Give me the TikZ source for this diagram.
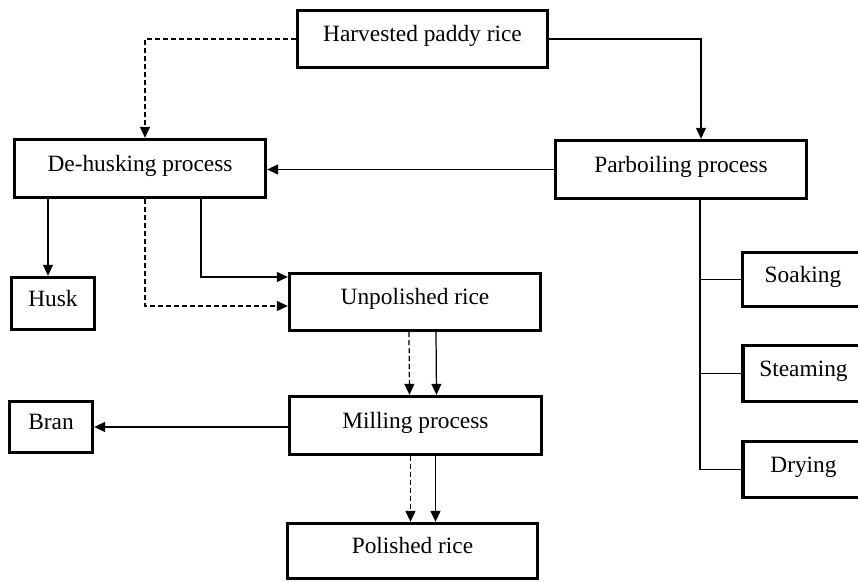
\documentclass[tikz,border=0pt]{standalone}
\usepackage{fontspec}
\setmainfont{Liberation Serif}
\usepackage{tikz}
\usetikzlibrary{arrows.meta}
\newcommand{\boxfont}{\fontsize{13.3}{16}\selectfont}
\tikzset{>={Triangle[length=2.2mm,width=2mm]}}
\tikzset{procbox/.style={draw, line width=1.9pt, inner sep=0pt, font=\boxfont, text height=0.35cm, text depth=0.24cm},
	conn/.style={line width=0.7pt},
	dashconn/.style={line width=0.7pt, dash pattern=on 0.1cm off 0.06cm}}

\begin{document}
\begin{tikzpicture}
	\useasboundingbox (0,0) rectangle (17.16,11.64);
	
	\node[procbox, minimum width=5.0cm, minimum height=1.14cm] (harvested) at (8.45,10.86) {Harvested paddy rice};
	\node[procbox, minimum width=5.02cm, minimum height=1.16cm] (dehusk) at (2.80,8.27) {De-husking process};
	\node[procbox, minimum width=5.02cm, minimum height=1.16cm] (parboil) at (13.62,8.25) {Parboiling process};
	\node[procbox, minimum width=1.66cm, minimum height=1.04cm] (husk) at (1.06,5.57) {Husk};
	\node[procbox, minimum width=5.02cm, minimum height=1.14cm] (unpolished) at (8.30,5.60) {Unpolished rice};
	\node[procbox, minimum width=5.04cm, minimum height=1.16cm] (milling) at (8.31,3.13) {Milling process};
	\node[procbox, minimum width=1.66cm, minimum height=1.02cm] (bran) at (1.02,3.10) {Bran};
	\node[procbox, minimum width=5.0cm, minimum height=1.10cm] (polished) at (8.25,0.62) {Polished rice};
	
	\node[procbox, minimum width=2.42cm, minimum height=1.08cm] (soaking) at (16.06,6.05) {Soaking};
	\node[procbox, minimum width=2.42cm, minimum height=1.12cm] (steaming) at (16.07,4.17) {Steaming};
	\node[procbox, minimum width=2.42cm, minimum height=1.12cm] (drying) at (16.07,2.25) {Drying};
	
	\draw[->,dashconn] (harvested.west) -| ([xshift=0.1cm]dehusk.north);
	\draw[->,conn] (harvested.east) -| ([xshift=0.4cm]parboil.north);
	\draw[->,conn] (parboil.west) -- (parboil.west -| dehusk.east);
	
	\draw[->,conn] ([xshift=-0.1cm]husk.north |- dehusk.south) -- ([xshift=-0.1cm]husk.north);
	\draw[->,conn] ([xshift=1.22cm]dehusk.south) |- ([yshift=0.5cm]unpolished.west);
	\draw[->,dashconn] ([xshift=0.1cm]dehusk.south) |- ([yshift=-0.08cm]unpolished.west);
	
	\draw[->,dashconn] ([xshift=-0.12cm]unpolished.south) -- ([xshift=-0.12cm]milling.north);
	\draw[->,conn] ([xshift=0.42cm]unpolished.south) -- ([xshift=0.42cm]milling.north);
	\draw[->,conn] (milling.west |- bran.east) -- (bran.east);
	\draw[->,dashconn] ([xshift=-0.1cm]milling.south) -- ([xshift=-0.1cm]milling.south |- polished.north);
	\draw[->,conn] ([xshift=0.4cm]milling.south) -- ([xshift=0.4cm]milling.south |- polished.north);
	
	\coordinate (trunk) at ([xshift=0.38cm]parboil.south);
	\draw[conn] (trunk) |- (drying.west);
	\draw[conn] (soaking.west) -- (soaking.west -| trunk);
	\draw[conn] (steaming.west) -- (steaming.west -| trunk);
	
\end{tikzpicture}
\end{document}
